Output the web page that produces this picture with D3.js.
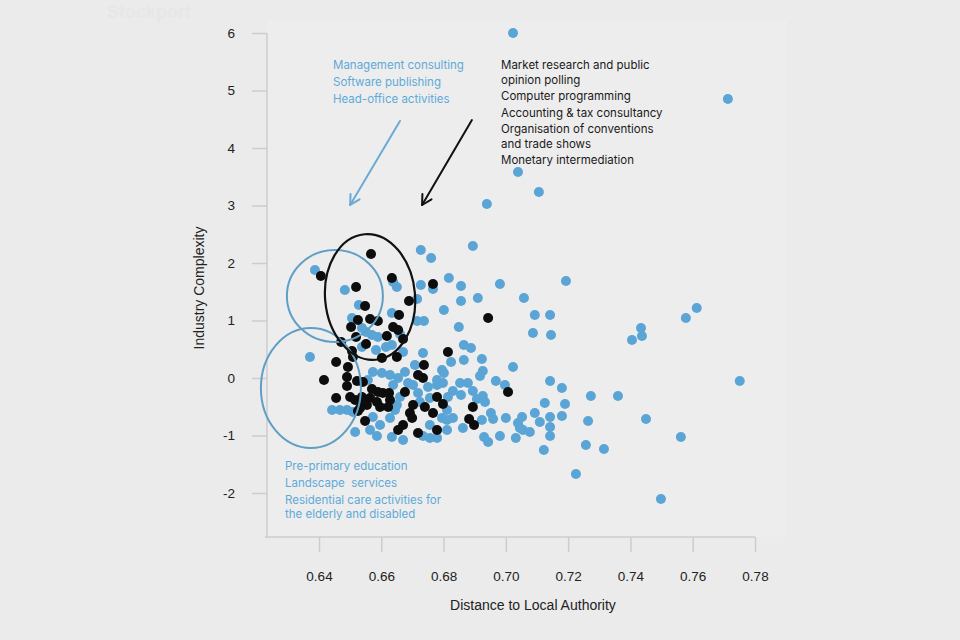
<!DOCTYPE html>
<html><head><meta charset="utf-8">
<script src="https://cdn.jsdelivr.net/npm/d3@7"></script>
<style>
html,body{margin:0;padding:0;background:#ebebeb;}
svg{display:block;}
</style></head><body>
<svg id="c" width="960" height="640"></svg>
<script>
const xTicks = [0.64,0.66,0.68,0.70,0.72,0.74,0.76,0.78];
const yTicks = [-2,-1,0,1,2,3,4,5,6];

const blueX = [0.7023,0.7713,0.7039,0.7106,0.6939,0.6894,0.6727,0.6760,0.7193,0.6981,
0.6817,0.6856,0.6727,0.6766,0.6910,0.6856,0.6715,0.7058,0.6801,0.7093,
0.7142,0.7087,0.7145,0.6715,0.6737,0.6849,0.6865,0.6888,0.6734,0.6865,
0.6824,0.6923,0.7023,0.6387,0.6483,0.6528,0.6638,0.6650,0.6634,0.6506,
0.6371,0.6570,0.6589,0.6660,0.6670,0.6708,0.6676,0.6795,0.6801,0.6573,
0.6602,0.6628,0.6557,0.6654,0.6686,0.6702,0.6638,0.6750,0.6779,0.6798,
0.6442,0.6467,0.6490,0.6509,0.6573,0.6596,0.6628,0.6644,0.6650,0.6516,
0.6564,0.6586,0.6634,0.6670,0.6756,0.6756,0.6811,0.6795,0.6779,0.6926,
0.6917,0.6853,0.6878,0.6968,0.6997,0.7142,0.7180,0.6830,0.6856,0.6894,
0.6926,0.6907,0.6933,0.7125,0.7190,0.6952,0.6959,0.7000,0.7052,0.7093,
0.7109,0.7142,0.7180,0.7039,0.7045,0.7055,0.7077,0.7142,0.7142,0.7264,
0.6923,0.6830,0.6811,0.6862,0.6811,0.6930,0.6943,0.6981,0.7032,0.7122,
0.7257,0.7315,0.7273,0.7360,0.7405,0.7434,0.7437,0.7578,0.7613,0.7751,
0.7562,0.7450,0.7225,0.7498,
0.6538,0.6551,0.6538,0.6583,0.6615,0.6634,0.6660,0.6718,0.6756,0.6724,0.6814,0.6779,0.6734];
const blueY = [6.000,4.852,3.583,3.235,3.026,2.296,2.226,2.087,1.687,1.635,
1.739,1.600,1.617,1.548,1.391,1.339,1.374,1.391,1.183,1.096,
1.096,0.783,0.748,0.991,0.991,0.887,0.574,0.522,0.435,0.313,
0.278,0.330,0.191,1.878,1.530,1.270,1.670,1.583,1.130,1.043,
0.365,0.748,0.713,0.765,0.452,0.226,0.104,0.139,0.087,0.104,
0.087,0.052,-0.035,0.000,-0.087,-0.122,-0.122,-0.157,-0.035,-0.087,
-0.557,-0.557,-0.557,-0.591,-0.678,-0.817,-0.696,-0.557,-0.470,-0.939,
-0.904,-1.009,-1.026,-1.078,-1.043,-0.817,-0.557,-0.696,-1.043,0.122,
0.035,-0.087,-0.087,-0.052,-0.122,-0.052,-0.174,-0.226,-0.296,-0.226,
-0.313,-0.365,-0.417,-0.435,-0.452,-0.609,-0.713,-0.696,-0.678,-0.609,
-0.765,-0.678,-0.661,-0.783,-0.870,-0.904,-0.939,-0.852,-1.009,-0.748,
-0.730,-0.696,-0.730,-0.870,-0.904,-1.026,-1.113,-1.009,-1.043,-1.252,
-1.165,-1.235,-0.313,-0.313,0.661,0.870,0.730,1.043,1.217,-0.052,
-1.026,-0.713,-1.670,-2.104,
0.870,0.800,0.539,0.487,0.539,0.574,-0.330,-0.261,-0.348,-0.417,-0.330,-0.122,-1.009];

const blackX = [0.6567,0.6406,0.6634,0.6519,0.6766,0.6689,0.6548,0.6657,0.6525,0.6564,
0.6589,0.6503,0.6638,0.6654,0.6519,0.6618,0.6670,0.6471,0.6551,0.6506,
0.6509,0.6602,0.6650,0.6455,0.6493,0.6737,0.6814,0.6943,0.6416,0.6490,
0.6522,0.6541,0.6718,0.6734,0.6490,0.6570,0.6589,0.6605,0.6625,0.6676,
0.6455,0.6500,0.6516,0.6538,0.6548,0.6564,0.6586,0.6628,0.6532,0.6554,
0.6596,0.6622,0.6702,0.6740,0.6779,0.6692,0.6525,0.6699,0.6766,0.6798,
0.6548,0.6670,0.6654,0.6718,0.6779,0.7007,0.6894,0.6882,0.6898];
const blackY = [2.157,1.774,1.739,1.583,1.635,1.339,1.252,1.096,1.009,1.026,
0.991,0.887,0.887,0.835,0.713,0.730,0.678,0.626,0.591,0.470,
0.365,0.348,0.365,0.278,0.191,0.226,0.452,1.043,-0.035,0.017,
-0.052,-0.070,0.052,0.000,-0.139,-0.191,-0.243,-0.261,-0.261,-0.243,
-0.348,-0.330,-0.383,-0.330,-0.417,-0.348,-0.417,-0.383,-0.522,-0.470,
-0.504,-0.504,-0.470,-0.504,-0.330,-0.609,-0.574,-0.696,-0.609,-0.452,
-0.748,-0.817,-0.904,-0.957,-0.904,-0.243,-0.504,-0.713,-0.817];

const blueNotes = ["Management consulting","Software publishing","Head-office activities"];
const blackNotes = ["Market research and public","opinion polling","Computer programming","Accounting & tax consultancy","Organisation of conventions","and trade shows","Monetary intermediation"];
const lowNotes = ["Pre-primary education","Landscape  services","Residential care activities for","the elderly and disabled"];

const BLUE = "#5ba5d6", BLUE_TXT = "#5eaad9", BLACK = "#0d0d0d";
const svg = d3.select("#c");

const x = d3.scaleLinear().domain([0.64,0.78]).range([319,755]);
const y = d3.scaleLinear().domain([-2,6]).range([493,33]);

// faint watermark
svg.append("text").attr("x",107).attr("y",18).attr("font-family","Liberation Sans, Arial, sans-serif")
  .attr("font-weight","bold").attr("font-size",18).attr("fill","#e7e7e7").text("Stockport");

// plot panel (very subtle)
svg.append("rect").attr("x",267).attr("y",20).attr("width",520).attr("height",517).attr("fill","#ededed");

const axisColor = "#cccccc";
const tickFont = "Liberation Sans, Arial, Helvetica, sans-serif";

// x axis
const gx = svg.append("g").attr("transform","translate(0,537)")
  .call(d3.axisBottom(x).tickValues(xTicks).tickSize(15).tickFormat(d3.format(".2f")));
gx.select(".domain").remove();
gx.selectAll(".tick line").attr("stroke",axisColor).attr("stroke-width",1.5);
gx.selectAll(".tick text").attr("y",43.5).attr("dy",null).attr("fill","#222")
  .attr("font-family",tickFont).attr("font-size",13.5);
svg.append("line").attr("x1",265).attr("x2",x(0.78)).attr("y1",537).attr("y2",537)
  .attr("stroke",axisColor).attr("stroke-width",1.5);

// y axis
const gy = svg.append("g").attr("transform","translate(267,0)")
  .call(d3.axisLeft(y).tickValues(yTicks).tickSize(15).tickFormat(d => String(d)));
gy.select(".domain").remove();
gy.selectAll(".tick line").attr("stroke",axisColor).attr("stroke-width",1.5);
gy.selectAll(".tick text").attr("x",-32).attr("fill","#222")
  .attr("font-family",tickFont).attr("font-size",13.5);
svg.append("line").attr("x1",267).attr("x2",267).attr("y1",y(6)).attr("y2",537)
  .attr("stroke",axisColor).attr("stroke-width",1.5);

// axis titles
svg.append("text").attr("x",533).attr("y",610).attr("text-anchor","middle")
  .attr("font-family",tickFont).attr("font-size",14).attr("fill","#222").text("Distance to Local Authority");
svg.append("text").attr("transform","translate(204,288) rotate(-90)").attr("text-anchor","middle")
  .attr("font-family",tickFont).attr("font-size",14).attr("fill","#222").text("Industry Complexity");

// points
const blue = d3.zip(blueX, blueY), black = d3.zip(blackX, blackY);
svg.append("g").selectAll("circle").data(blue).join("circle")
  .attr("cx",d=>x(d[0])).attr("cy",d=>y(d[1])).attr("r",5).attr("fill",BLUE);
svg.append("g").selectAll("circle").data(black).join("circle")
  .attr("cx",d=>x(d[0])).attr("cy",d=>y(d[1])).attr("r",5).attr("fill",BLACK);

// ellipses
const ellipses = [
  {cx:0.6451, cy:1.426, rx:48, ry:46, rot:0, c:"#5f9fc6", w:2},
  {cx:0.6374, cy:-0.174, rx:50, ry:60, rot:0, c:"#5f9fc6", w:2},
  {cx:0.6564, cy:1.409, rx:45, ry:63, rot:-5, c:"#111", w:2.2}
];
ellipses.forEach(e=>{
  svg.append("ellipse").attr("transform",`translate(${x(e.cx)},${y(e.cy)}) rotate(${e.rot})`)
    .attr("rx",e.rx).attr("ry",e.ry).attr("fill","none").attr("stroke",e.c).attr("stroke-width",e.w);
});

// arrows
const arrows = [
  {x1:0.6660,y1:4.470,x2:0.6500,y2:3.009,c:"#6aabd6"},
  {x1:0.6891,y1:4.487,x2:0.6731,y2:3.009,c:"#111"}
];
arrows.forEach(a=>{
  const X1=x(a.x1),Y1=y(a.y1),X2=x(a.x2),Y2=y(a.y2);
  const ang=Math.atan2(Y2-Y1,X2-X1), L=11, sp=0.5;
  const g=svg.append("g").attr("stroke",a.c).attr("stroke-width",2).attr("fill","none").attr("stroke-linecap","round");
  g.append("line").attr("x1",X1).attr("y1",Y1).attr("x2",X2).attr("y2",Y2);
  g.append("path").attr("d",`M${X2-L*Math.cos(ang-sp)},${Y2-L*Math.sin(ang-sp)}L${X2},${Y2}L${X2-L*Math.cos(ang+sp)},${Y2-L*Math.sin(ang+sp)}`)
    .attr("stroke-linejoin","round");
});

// annotation texts
const noteFont = "Inter, 'Open Sans', sans-serif";
const blueBase = [69,86,102.5];
svg.append("g").selectAll("text").data(blueNotes).join("text")
  .attr("x",333).attr("y",(d,i)=>blueBase[i]).attr("font-family",noteFont).attr("font-size",11.5)
  .attr("fill",BLUE_TXT).text(d=>d);
const blackBase = [69,83.5,100,116.5,133,147.5,163.5];
svg.append("g").selectAll("text").data(blackNotes).join("text")
  .attr("x",501).attr("y",(d,i)=>blackBase[i]).attr("font-family",noteFont).attr("font-size",11.5)
  .attr("fill","#1a1a1a").text(d=>d);
const lowBase = [470,487,503.5,518];
svg.append("g").selectAll("text").data(lowNotes).join("text")
  .attr("x",285).attr("y",(d,i)=>lowBase[i]).attr("font-family",noteFont).attr("font-size",11.5)
  .attr("fill",BLUE_TXT).style("white-space","pre").attr("xml:space","preserve").text(d=>d);
</script>
</body></html>
